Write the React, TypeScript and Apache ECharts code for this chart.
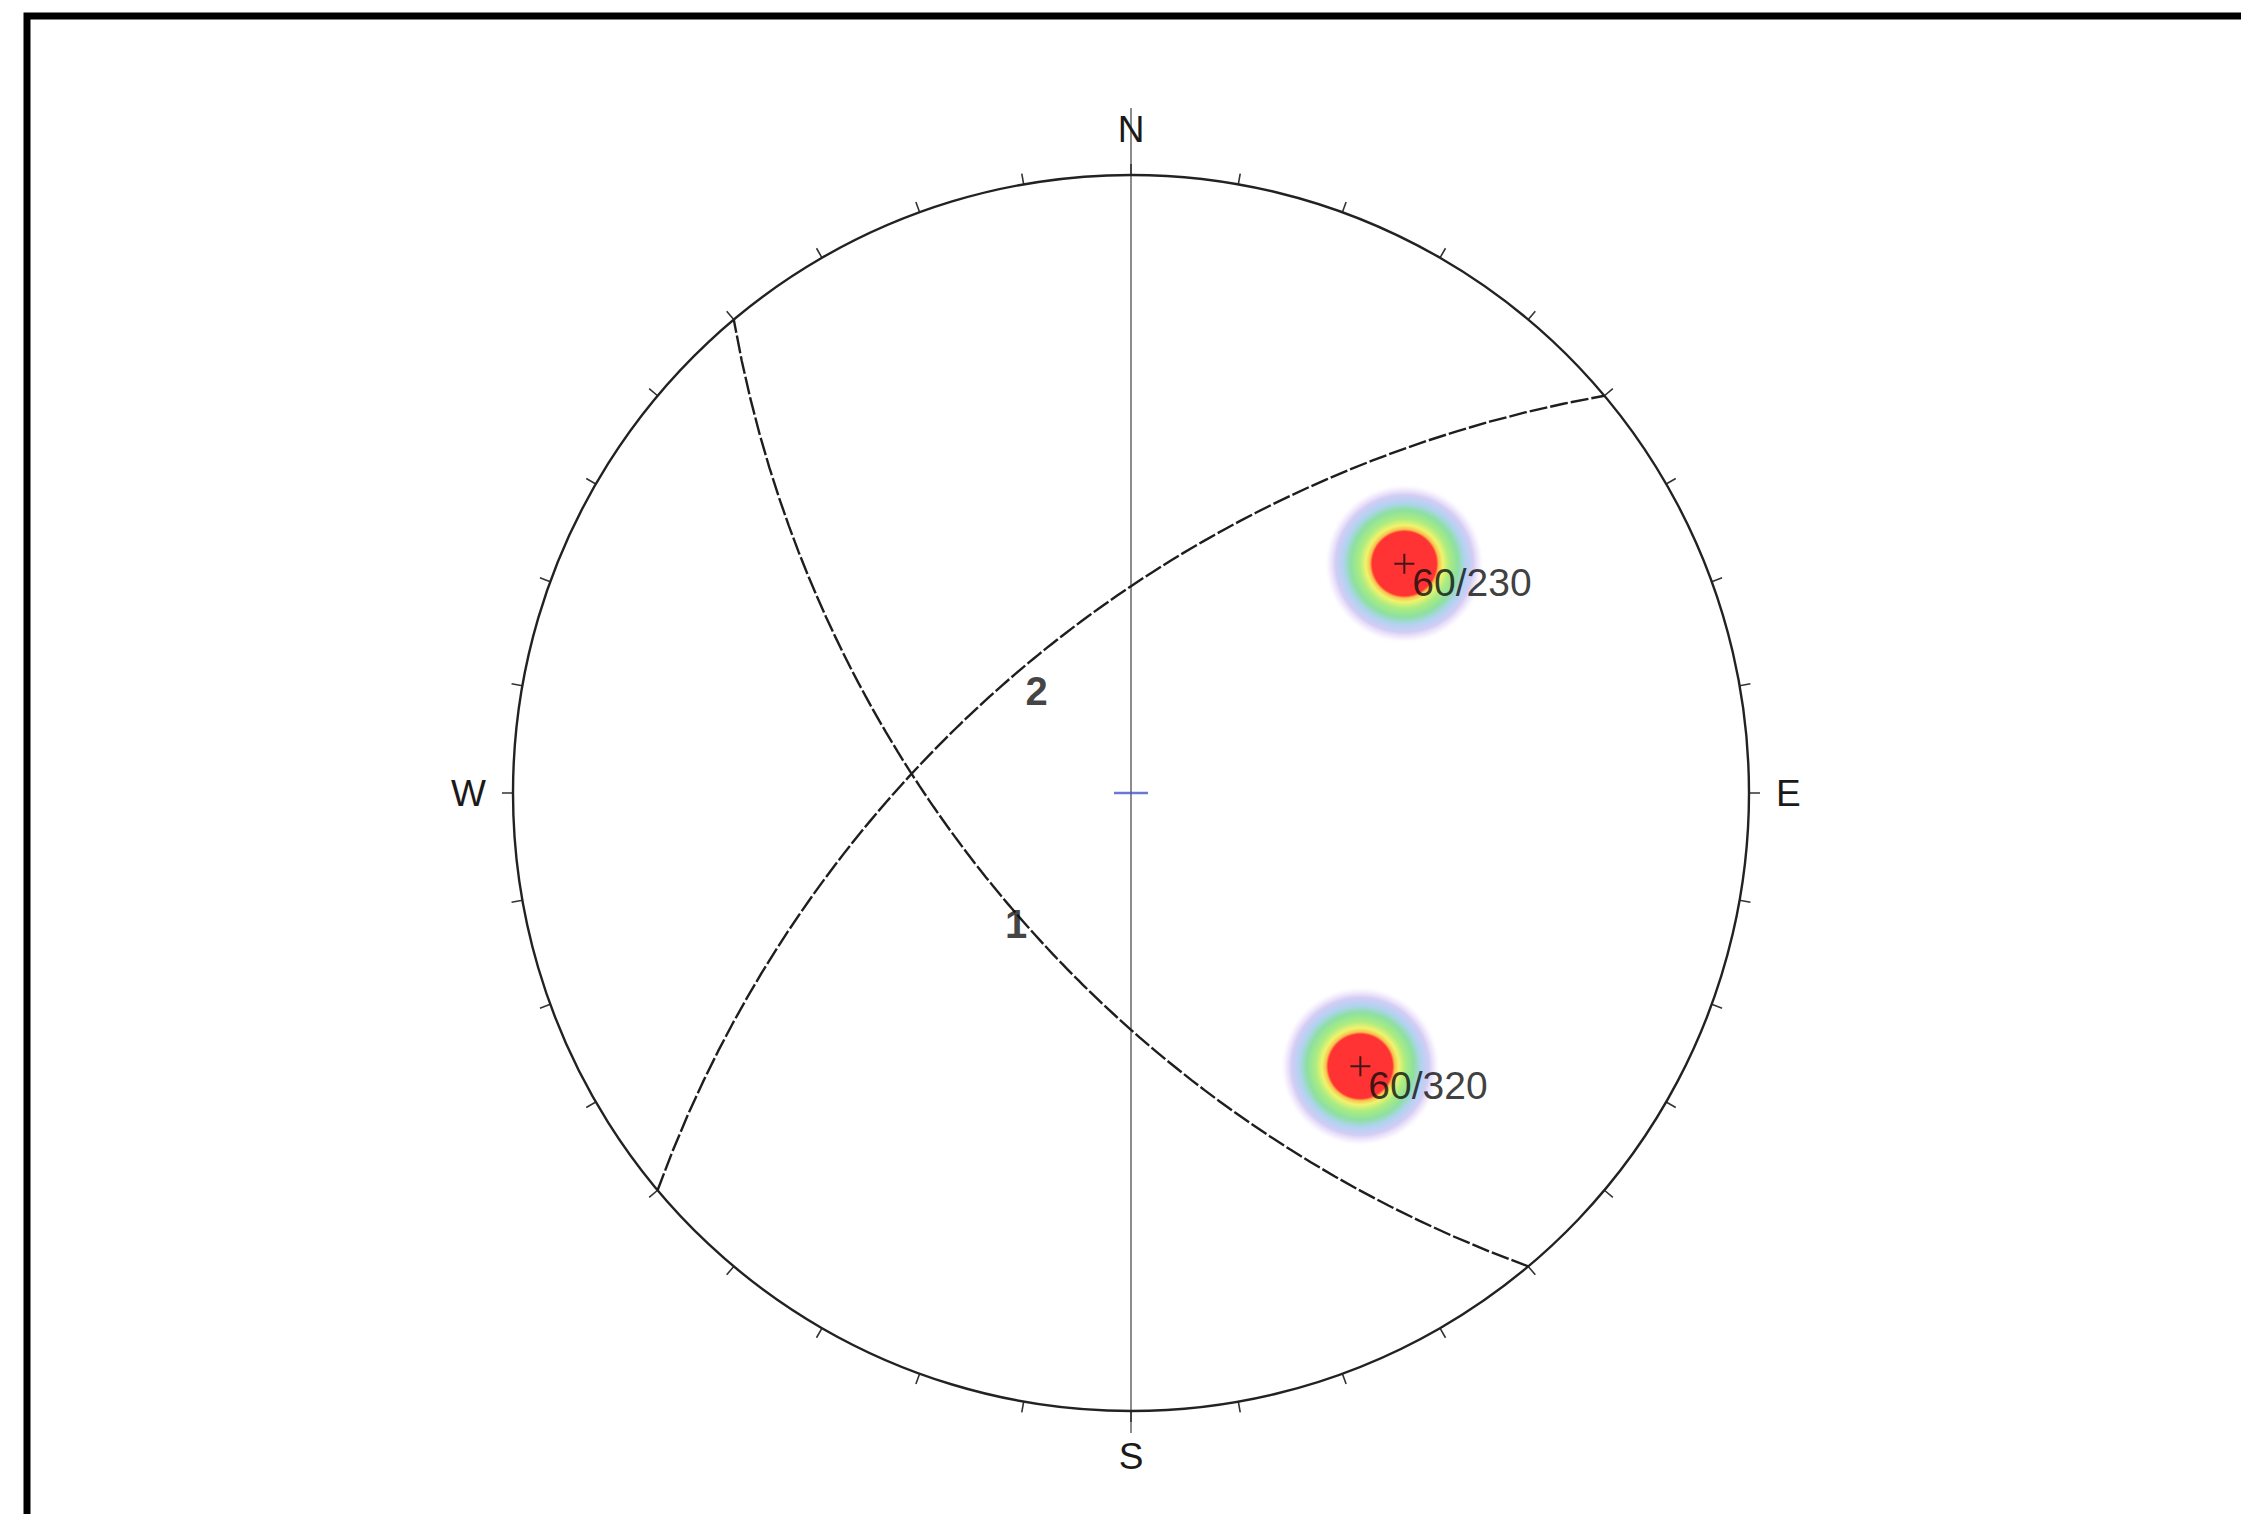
import React, { useEffect, useRef } from "react";
import * as echarts from "echarts";

// ---- data ----
const planeDips = [60, 60];
const planeDipDirs = [230, 320];
const planeNames = ["1", "2"];
const poleLabels = ["60/230", "60/320"];
const tickStep = 10;
const directionAngles = [0, 90, 180, 270];
const directionLabels = ["N", "E", "S", "W"];

// ---- layout ----
const W = 2241;
const H = 1514;
const CX = 1131;
const CY = 793;
const R = 618;
const FONT = "'Liberation Sans', Arial, sans-serif";
const DEG = Math.PI / 180;

// equal-angle (Wulff) projection of a line's plunge onto the unit primitive
const project = (plunge: number) => Math.tan(((90 - plunge) / 2) * DEG);
const norm = (a: number) => ((a % 360) + 360) % 360;

function greatCircle(dip: number, dipDir: number) {
  const pts: number[][] = [];
  for (let k = -90; k <= 90; k += 2) {
    const beta = Math.atan(Math.tan(dip * DEG) * Math.cos(k * DEG)) / DEG;
    pts.push([project(beta), norm(dipDir + k)]);
  }
  return pts;
}

const poles = planeDips.map((d, i) => [project(90 - d), norm(planeDipDirs[i] + 180)]);

export default function App() {
  const ref = useRef<HTMLDivElement>(null);
  useEffect(() => {
    document.body.style.margin = "0";
    const chart = echarts.init(ref.current!, null, { renderer: "svg" });
    const blobColor = new echarts.graphic.RadialGradient(0.5, 0.5, 0.5, [
      { offset: 0, color: "#ff0000" },
      { offset: 0.4, color: "#ff0000" },
      { offset: 0.43, color: "#f6b020" },
      { offset: 0.48, color: "#eef048" },
      { offset: 0.56, color: "#98e860" },
      { offset: 0.67, color: "#70d88a" },
      { offset: 0.76, color: "#9cc8ec" },
      { offset: 0.86, color: "#c8c0f2" },
      { offset: 0.94, color: "rgba(236,222,250,0.6)" },
      { offset: 1, color: "rgba(255,255,255,0)" },
    ]);

    const series: any[] = [];
    // density blobs
    series.push({
      type: "scatter",
      coordinateSystem: "polar",
      symbol: "circle",
      symbolSize: 160,
      itemStyle: { color: blobColor },
      data: poles,
      z: 1,
      silent: true,
    });
    // great circles
    planeDips.forEach((d, i) => {
      series.push({
        type: "line",
        coordinateSystem: "polar",
        data: greatCircle(d, planeDipDirs[i]),
        showSymbol: false,
        clip: false,
        lineStyle: { color: "#1e1e1e", width: 2.4, type: [18, 3] },
        z: 2,
        silent: true,
      });
    });
    // plane labels
    series.push({
      type: "scatter",
      coordinateSystem: "polar",
      symbolSize: 1,
      itemStyle: { color: "rgba(0,0,0,0)" },
      data: planeDips.map((d, i) => ({
        value: [project(d), planeDipDirs[i]],
        name: planeNames[i],
      })),
      label: {
        show: true,
        position: "inside",
        offset: [12, 25],
        formatter: (p: any) => p.name,
        color: "#111",
        fontSize: 40,
        fontWeight: "bold",
        fontFamily: FONT,
      },
      z: 4,
    });
    // pole crosses and labels
    series.push({
      type: "scatter",
      coordinateSystem: "polar",
      symbol: "path://M-1,-10 h2 v20 h-2 z M-10,-1 h20 v2 h-20 z",
      symbolSize: 20,
      itemStyle: { color: "#111" },
      data: poles.map((p, i) => ({ value: p, name: poleLabels[i] })),
      label: {
        show: true,
        position: "inside",
        align: "left",
        verticalAlign: "middle",
        offset: [8, 19],
        formatter: (p: any) => p.name,
        color: "#0d0d0d",
        fontSize: 39,
        fontFamily: FONT,
      },
      z: 5,
    });
    // centre mark
    series.push({
      type: "scatter",
      coordinateSystem: "polar",
      symbol: "rect",
      symbolSize: [34, 2.5],
      itemStyle: { color: "#4656c6" },
      data: [[0, 0]],
      z: 3,
      silent: true,
    });

    chart.setOption({
      animation: false,
      backgroundColor: "#ffffff",
      polar: { center: [CX, CY], radius: R },
      angleAxis: {
        type: "value",
        min: 0,
        max: 360,
        interval: tickStep,
        startAngle: 90,
        clockwise: true,
        axisLine: { show: true, lineStyle: { color: "#222", width: 2.4 } },
        axisTick: { show: true, inside: false, length: 11, lineStyle: { color: "#333", width: 1.6 } },
        axisLabel: {
          show: true,
          margin: 27,
          formatter: (v: number) => {
            const i = directionAngles.indexOf(v);
            return i >= 0 ? directionLabels[i] : "";
          },
          color: "#1a1a1a",
          fontSize: 37,
          fontFamily: FONT,
        },
        splitLine: { show: false },
        splitArea: { show: false },
      },
      radiusAxis: { type: "value", min: 0, max: 1, show: false },
      graphic: [
        {
          type: "rect",
          shape: { x: 27, y: 16, width: 2400, height: 1600 },
          style: { fill: "none", stroke: "#000", lineWidth: 7 },
          z: 0,
          silent: true,
        },
        {
          type: "line",
          shape: { x1: CX, y1: CY - R - 67, x2: CX, y2: CY + R + 22 },
          style: { stroke: "#8c8c8c", lineWidth: 2 },
          z: 0,
          silent: true,
        },
      ],
      series,
    });
    return () => chart.dispose();
  }, []);
  return <div ref={ref} style={{ width: W, height: H }} />;
}
